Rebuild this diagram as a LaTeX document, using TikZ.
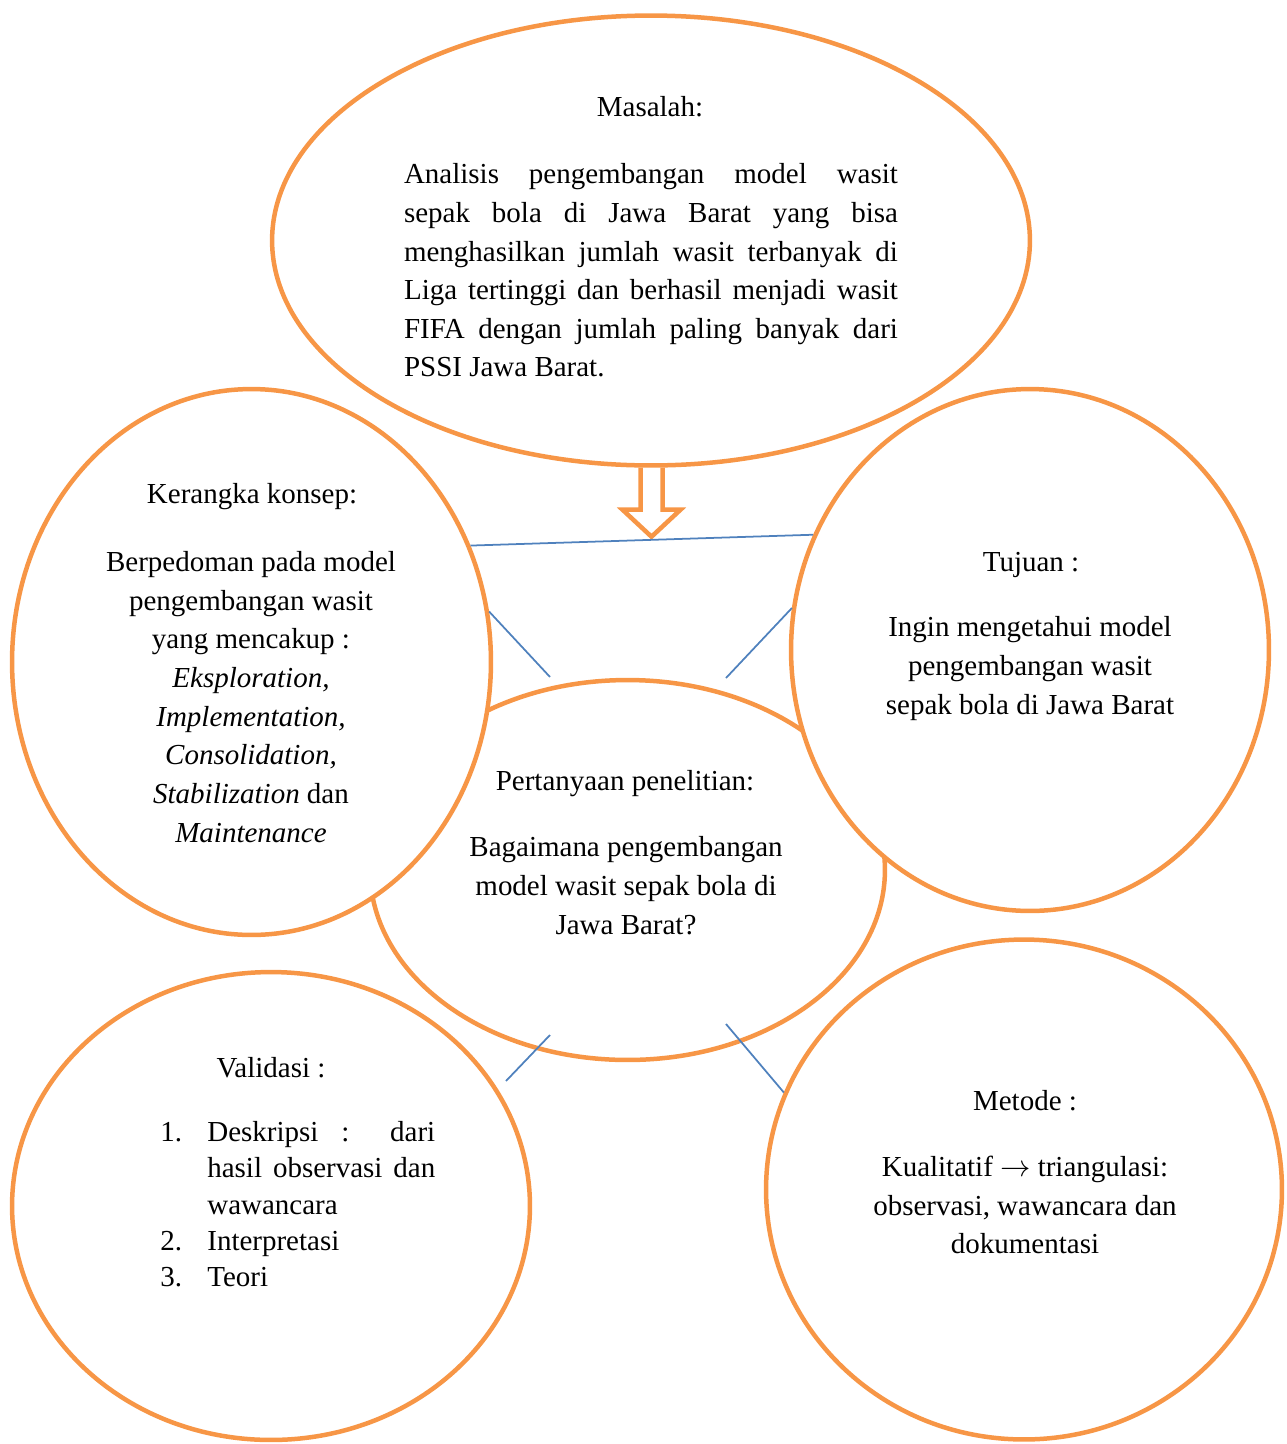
\documentclass[tikz,border=0pt]{standalone}
\usepackage{fontspec}
\setmainfont{Liberation Serif}
\usetikzlibrary{shapes.geometric}
\definecolor{bubbleorange}{HTML}{F79646}
\definecolor{linkblue}{HTML}{4F81BD}
\newcommand{\bodysize}{\fontsize{16.5}{22}\selectfont}
\newcommand{\listsize}{\fontsize{16.5}{20.8}\selectfont}
\tikzset{
  bubble/.style={ellipse, draw=bubbleorange, line width=0.09cm, fill=white, inner sep=0pt},
  lbl/.style={inner sep=0pt, font=\bodysize},
  link/.style={draw=linkblue, line width=1pt},
  hollowarrow/.style={draw=bubbleorange, line width=0.09cm, line join=miter}
}
\newcommand{\bubble}[5]{\node[bubble,minimum width=#4cm,minimum height=#5cm] (#1) at ( #2 , #3 ) {};}
\newcommand{\lablnode}[4]{\node[lbl] (#1) at ( #2 , #3 ) {#4};}

\begin{document}
\begin{tikzpicture}[x=0.02cm,y=-0.02cm]
    \useasboundingbox (0,0) rectangle (1287,1444);

    % bubbles (middle one first, the side ones cover it)
    \bubble{masalah}{651}{240.5}{15.16}{9.0}
    \bubble{pertanyaan}{627.5}{870}{10.3}{7.6}
    \bubble{kerangka}{251.5}{662}{9.58}{10.92}
    \bubble{tujuan}{1030}{650}{9.56}{10.44}
    \bubble{validasi}{271}{1206}{10.36}{9.36}
    \bubble{metode}{1024}{1189.5}{10.32}{10.0}

    % titles
    \lablnode{masalahT}{650}{107}{Masalah:}
    \lablnode{kerangkaT}{252}{497}{Kerangka konsep:}
    \lablnode{tujuanT}{1031}{565}{Tujuan :}
    \lablnode{pertanyaanT}{625}{784}{Pertanyaan penelitian:}
    \lablnode{validasiT}{271}{1068}{Validasi :}
    \lablnode{metodeT}{1025}{1101}{Metode :}

    % texts
    \node[lbl, text width=9.88cm, align=justify] (masalahB) at (651,270.5)
        {Analisis pengembangan model wasit\linebreak sepak bola di Jawa Barat yang bisa\linebreak menghasilkan jumlah wasit terbanyak di\linebreak Liga tertinggi dan berhasil menjadi wasit\linebreak FIFA dengan jumlah paling banyak dari\linebreak PSSI Jawa Barat.};
    \node[lbl, align=center] (kerangkaB) at (251,697)
        {Berpedoman pada model\\ pengembangan wasit\\ yang mencakup :\\ \textit{Eksploration,}\\ \textit{Implementation,}\\ \textit{Consolidation,}\\ \textit{Stabilization} dan\\ \textit{Maintenance}};
    \node[lbl, align=center] (tujuanB) at (1030,668.5)
        {Ingin mengetahui model\\ pengembangan wasit\\ sepak bola di Jawa Barat};
    \node[lbl, align=center] (pertanyaanB) at (626,885.5)
        {Bagaimana pengembangan\\ model wasit sepak bola di\\ Jawa Barat?};
    \node[lbl, align=center] (metodeB) at (1025,1205)
        {Kualitatif $\rightarrow$ triangulasi:\\ observasi, wawancara dan\\ dokumentasi};

    % list validasi
    \node[lbl, anchor=base west] (no1) at (160,1141) {1.};
    \node[lbl, anchor=base west] (no2) at (160,1250) {2.};
    \node[lbl, anchor=base west] (no3) at (160,1286) {3.};
    \node[lbl, font=\listsize, text width=4.56cm, align=justify, anchor=base west] (item1) at (207,1141)
        {Deskripsi : dari\linebreak hasil observasi dan\linebreak wawancara};
    \node[lbl, anchor=base west] (item2) at (207,1250) {Interpretasi};
    \node[lbl, anchor=base west] (item3) at (207,1286) {Teori};

    % arrow under masalah
    \draw[hollowarrow] ([xshift=-0.21cm]masalah.south) -- ++(0,42) -- ++(-18,0)
        -- ++(29,27) -- ++(29,-27) -- ++(-18,0) -- ++(0,-42);

    % blue lines
    \coordinate (kerangkaEnd) at (550,677);
    \coordinate (tujuanEnd) at (726,678);
    \coordinate (validasiTop) at (550,1035);
    \coordinate (validasiEnd) at (506,1081);
    \coordinate (metodeTop) at (726,1024);
    \draw[link] (kerangka.28) -- (tujuan.152);
    \draw[link] (kerangka.12) -- (kerangkaEnd);
    \draw[link] (tujuan.170) -- (tujuanEnd);
    \draw[link] (validasiTop) -- (validasiEnd);
    \draw[link] (metodeTop) -- (metode.158);
\end{tikzpicture}
\end{document}
